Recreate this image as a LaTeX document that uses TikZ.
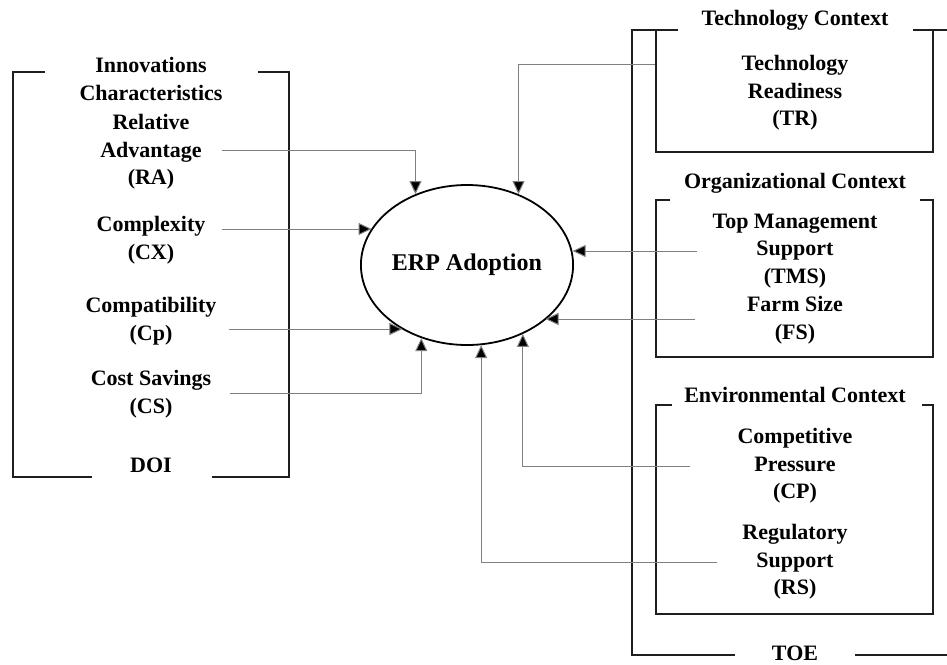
\documentclass[tikz,border=0pt]{standalone}
\usepackage{fontspec}
\setmainfont{Liberation Serif}
\usetikzlibrary{arrows.meta,shapes.geometric}
\begin{document}
\begin{tikzpicture}[x=1pt,y=-1pt,
  lbl/.style={font=\fontsize{22}{27.5}\selectfont\bfseries, align=center, inner sep=0pt},
  frame/.style={line width=1.8pt, draw=black!88},
  conn/.style={line width=1pt, draw=black!50, -{Triangle[length=13pt,width=12pt,fill=black]}},
  core/.style={ellipse, draw=black, line width=1.8pt, minimum width=210pt, minimum height=160pt,
    inner sep=0pt, font=\fontsize{24}{28}\selectfont\bfseries}]
\useasboundingbox (0,0) rectangle (947,664);

% central construct
\node[core] (erp) at (467,265) {ERP Adoption};

% DOI bracket and its constructs
\draw[frame] (45,72) -- (13,72) -- (13,477) -- (92,477);
\draw[frame] (258,72) -- (289,72) -- (289,477) -- (212,477);
\node[lbl] (ic)  at (151,79)  {Innovations\\Characteristics};
\node[lbl] (ra)  at (151,152) {Relative\\Advantage\\(RA)};
\node[lbl] (cx)  at (151,240) {Complexity\\(CX)};
\node[lbl] (cpt) at (151,321) {Compatibility\\(Cp)};
\node[lbl] (cs)  at (151,394) {Cost Savings\\(CS)};
\node[lbl] (doi) at (151,465) {DOI};

% TOE bracket with its three contexts
\draw[frame] (678,30) -- (632,30) -- (632,655) -- (735,655);
\draw[frame] (855,655) -- (947,655);
\draw[frame] (913,30) -- (947,30);
\draw[frame] (656,30) -- (656,152) -- (933,152) -- (933,30);
\draw[frame] (670,200) -- (656,200) -- (656,357) -- (933,357) -- (933,200) -- (920,200);
\draw[frame] (672,405) -- (656,405) -- (656,614) -- (933,614) -- (933,405) -- (922,405);

\node[lbl] (tc)  at (795,20)  {Technology Context};
\node[lbl] (tr)  at (795,93)  {Technology\\Readiness\\(TR)};
\node[lbl] (oc)  at (795,183) {Organizational Context};
\node[lbl] (tms) at (795,251) {Top Management\\Support\\(TMS)};
\node[lbl] (fs)  at (795,320) {Farm Size\\(FS)};
\node[lbl] (ec)  at (795,395) {Environmental Context};
\node[lbl] (cp)  at (795,466) {Competitive\\Pressure\\(CP)};
\node[lbl] (rs)  at (795,562) {Regulatory\\Support\\(RS)};
\node[lbl] (toe) at (795,653) {TOE};

% connector start points beside each construct
\coordinate (raS)  at (222,150);
\coordinate (cxS)  at (222,229);
\coordinate (cptS) at (229,329);
\coordinate (csS)  at (230,393);
\coordinate (trS)  at (655,64);
\coordinate (tmsS) at (697,251);
\coordinate (fsS)  at (695,319);
\coordinate (cpS)  at (690,466);
\coordinate (rsS)  at (717,562);

% paths into ERP Adoption
\draw[conn] (raS)  -| (erp.126.1);
\draw[conn] (cxS)  -- (cxS -| erp.159);
\draw[conn] (cptS) -- (cptS -| erp.225.4);
\draw[conn] (csS)  -| (erp.238.1);
\draw[conn] (trS)  -| (erp.54.6);
\draw[conn] (tmsS) -- (tmsS -| erp.7.7);
\draw[conn] (fsS)  -- (fsS -| erp.325.1);
\draw[conn] (cpS)  -| (erp.309.6);
\draw[conn] (rsS)  -| (erp.280);
\end{tikzpicture}
\end{document}
